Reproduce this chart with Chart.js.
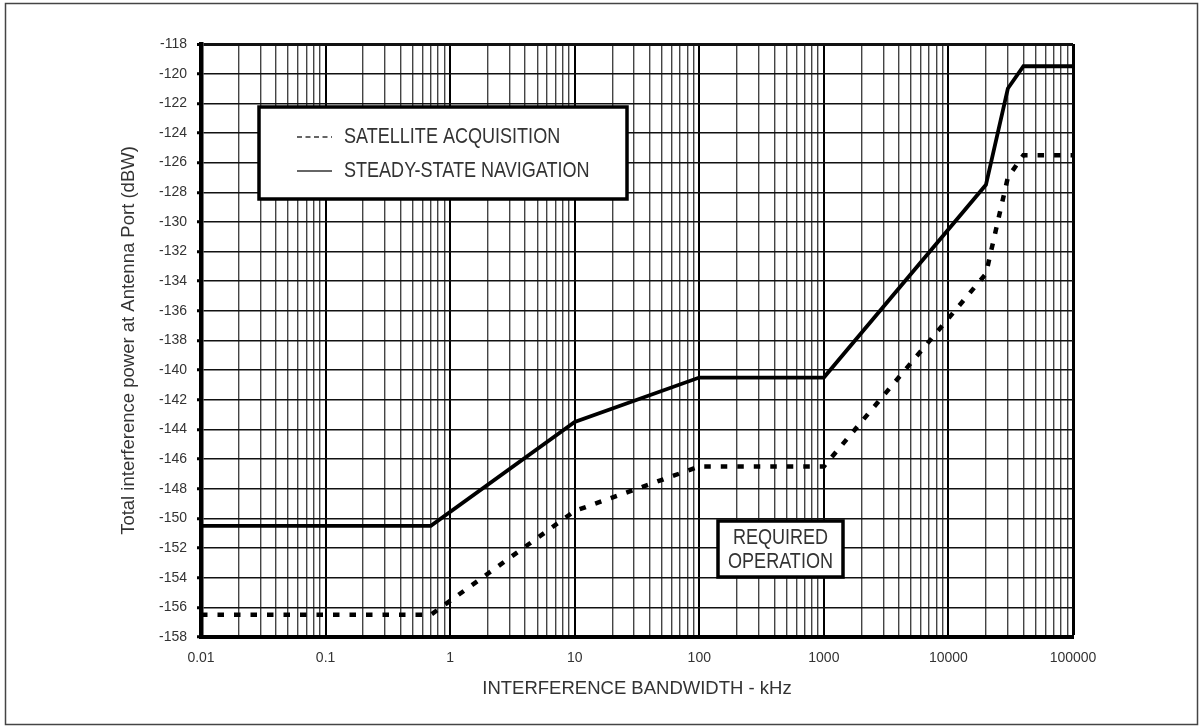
<!DOCTYPE html>
<html>
<head>
<meta charset="utf-8">
<title>Interference power vs bandwidth</title>
<script src="https://cdn.jsdelivr.net/npm/chart.js@4.4.1/dist/chart.umd.min.js"></script>
<style>
  html, body { margin: 0; padding: 0; background: #fff; }
  canvas { display: block; }
</style>
</head>
<body>
<canvas id="chart" width="1203" height="728"></canvas>
<script>
// bandwidth breakpoints (kHz) and the two threshold curves (dBW)
const bandwidth = [0.01, 0.7, 10, 100, 1000, 20000, 30000, 40000, 100000];
const navigation = [-150.5, -150.5, -143.5, -140.5, -140.5, -127.5, -121, -119.5, -119.5];
const acquisition = [-156.5, -156.5, -149.5, -146.5, -146.5, -133.5, -127, -125.5, -125.5];

const xDecades = [0.01, 0.1, 1, 10, 100, 1000, 10000, 100000];
const xTickLabels = ['0.01', '0.1', '1', '10', '100', '1000', '10000', '100000'];
const legendLabels = ['SATELLITE ACQUISITION', 'STEADY-STATE NAVIGATION'];
const noteLines = ['REQUIRED', 'OPERATION'];

const FONT = "'Liberation Sans', Arial, sans-serif";
const TEXT = '#333';

const pts = ys => bandwidth.map((x, i) => ({x, y: ys[i]}));
const isDecade = v => xDecades.includes(v);

// narrow lettering like the original's condensed face
function narrowText(ctx, text, x, y, align) {
  ctx.save();
  ctx.translate(x, y);
  ctx.scale(0.82, 1);
  ctx.textAlign = align || 'left';
  ctx.fillText(text, 0, 0);
  ctx.restore();
}

const frame = {
  id: 'frame',
  beforeDraw(chart) {
    const ctx = chart.ctx;
    ctx.save();
    ctx.fillStyle = '#fff';
    ctx.fillRect(0, 0, chart.width, chart.height);
    ctx.strokeStyle = '#444';
    ctx.lineWidth = 1.5;
    ctx.strokeRect(5.5, 3.5, 1192, 721);
    ctx.restore();
  }
};

const boxes = {
  id: 'boxes',
  afterDatasetsDraw(chart) {
    const {ctx, chartArea: a} = chart;
    ctx.save();

    // legend
    const lx = a.left + 58, ly = a.top + 63, lw = 368, lh = 92;
    ctx.fillStyle = '#fff';
    ctx.fillRect(lx, ly, lw, lh);
    ctx.strokeStyle = '#000';
    ctx.lineWidth = 3.5;
    ctx.strokeRect(lx, ly, lw, lh);

    ctx.lineWidth = 1.3;
    ctx.strokeStyle = '#333';
    ctx.setLineDash([5, 3.5]);
    ctx.beginPath();
    ctx.moveTo(lx + 38, ly + 30);
    ctx.lineTo(lx + 73, ly + 30);
    ctx.stroke();
    ctx.setLineDash([]);
    ctx.beginPath();
    ctx.moveTo(lx + 38, ly + 64);
    ctx.lineTo(lx + 73, ly + 64);
    ctx.stroke();

    ctx.fillStyle = TEXT;
    ctx.font = '22px ' + FONT;
    ctx.textBaseline = 'middle';
    narrowText(ctx, legendLabels[0], lx + 85, ly + 30);
    narrowText(ctx, legendLabels[1], lx + 85, ly + 64);

    // note box
    const bx = a.left + 517, by = a.top + 477, bw = 125, bh = 56;
    ctx.fillStyle = '#fff';
    ctx.fillRect(bx, by, bw, bh);
    ctx.lineWidth = 3.5;
    ctx.strokeStyle = '#000';
    ctx.strokeRect(bx, by, bw, bh);
    ctx.fillStyle = TEXT;
    narrowText(ctx, noteLines[0], bx + bw / 2, by + 17, 'center');
    narrowText(ctx, noteLines[1], bx + bw / 2, by + 41, 'center');

    ctx.restore();
  }
};

new Chart(document.getElementById('chart'), {
  type: 'line',
  data: {
    datasets: [{
      label: legendLabels[0],
      data: pts(acquisition),
      borderColor: '#000',
      borderWidth: 4.5,
      borderDash: [6.5, 10],
      pointRadius: 0,
      tension: 0,
      fill: false
    }, {
      label: legendLabels[1],
      data: pts(navigation),
      borderColor: '#000',
      borderWidth: 3.8,
      pointRadius: 0,
      tension: 0,
      fill: false
    }]
  },
  options: {
    responsive: false,
    animation: false,
    layout: { padding: { left: 0, right: 130, top: 44, bottom: 0 } },
    plugins: {
      legend: { display: false },
      tooltip: { enabled: false }
    },
    scales: {
      x: {
        type: 'logarithmic',
        min: 0.01,
        max: 100000,
        afterBuildTicks: scale => {
          const t = [];
          xDecades.forEach((d, i) => {
            t.push({value: d});
            if (i < xDecades.length - 1) {
              for (let m = 2; m <= 9; m++) t.push({value: +(d * m).toPrecision(3)});
            }
          });
          scale.ticks = t;
        },
        afterFit: scale => { scale.height = 91; },
        ticks: {
          autoSkip: false,
          maxRotation: 0,
          padding: 13,
          color: TEXT,
          font: { family: FONT, size: 14 },
          callback: v => {
            const i = xDecades.indexOf(v);
            return i >= 0 ? xTickLabels[i] : '';
          }
        },
        grid: {
          drawTicks: false,
          color: c => isDecade(c.tick.value) ? '#000' : '#444',
          lineWidth: c => c.tick.value === 100000 ? 3 : (isDecade(c.tick.value) ? 2 : 1.4)
        },
        border: { color: '#000', width: 4 },
        title: {
          display: true,
          text: 'INTERFERENCE BANDWIDTH - kHz',
          color: TEXT,
          font: { family: FONT, size: 18.5 },
          padding: { top: 0, bottom: 28 }
        }
      },
      y: {
        type: 'linear',
        min: -158,
        max: -118,
        afterFit: scale => { scale.width = 201; },
        ticks: {
          stepSize: 2,
          padding: 10,
          color: TEXT,
          font: { family: FONT, size: 14 }
        },
        grid: {
          color: '#111',
          lineWidth: c => c.tick.value === -118 ? 3 : 1.5,
          tickLength: 4,
          tickWidth: 3,
          tickColor: '#000'
        },
        border: { color: '#000', width: 4.5 },
        title: {
          display: true,
          text: 'Total interference power at Antenna Port (dBW)',
          color: TEXT,
          font: { family: FONT, size: 18.5 },
          padding: { top: 118, bottom: 0 }
        }
      }
    }
  },
  plugins: [frame, boxes]
});
</script>
</body>
</html>
